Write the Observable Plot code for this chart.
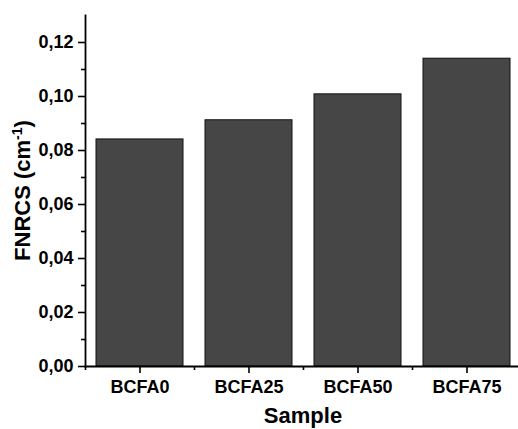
<!DOCTYPE html>
<html>
<head>
<meta charset="utf-8">
<script src="https://cdn.jsdelivr.net/npm/d3@7"></script>
<script src="https://cdn.jsdelivr.net/npm/@observablehq/plot@0.6"></script>
<style>
  html, body { margin: 0; padding: 0; background: #fff; }
  #chart { width: 518px; height: 429px; overflow: hidden; }
  svg { font-family: "Liberation Sans", Arial, sans-serif; font-weight: bold; }
</style>
</head>
<body>
<div id="chart"></div>
<script>
const samples = ["BCFA0", "BCFA25", "BCFA50", "BCFA75"];
const fnrcs = [0.0841, 0.0912, 0.1008, 0.1140];
const majorYTicks = [0, 0.02, 0.04, 0.06, 0.08, 0.10, 0.12];
const minorYTicks = [0.01, 0.03, 0.05, 0.07, 0.09, 0.11];
const xTitle = "Sample";
const yTitleMain = "FNRCS (cm";
const yTitleSup = "-1";
const yTitleEnd = ")";

const data = samples.map((s, i) => ({sample: s, value: fnrcs[i]}));
const fmt = d => d3.format(".2f")(d).replace(".", ",");

const W = 518, H = 429;
const mL = 85, mT = 15, mB = 63;
const xEnd = 521;

const plot = Plot.plot({
  width: W,
  height: H,
  marginLeft: mL,
  marginTop: mT,
  marginBottom: mB,
  marginRight: 0,
  style: {fontFamily: "'Liberation Sans', Arial, sans-serif", fontWeight: "bold", fontSize: "18px", color: "#000", background: "#fff", overflow: "hidden"},
  x: {domain: samples, range: [mL, xEnd], paddingInner: 0.2, paddingOuter: 0.1, label: null},
  y: {domain: [0, 0.13], label: null},
  marks: [
    Plot.barY(data, {x: "sample", y: "value", fill: "#464646", stroke: "#111", strokeWidth: 1}),
    Plot.axisY({ticks: majorYTicks, tickSize: 7, tickPadding: 5, tickFormat: fmt, strokeWidth: 1.6, fontSize: 18, fontWeight: "bold", label: null}),
    Plot.axisY({ticks: minorYTicks, tickSize: 4, tickFormat: () => "", strokeWidth: 1.6, label: null}),
    Plot.axisX({tickSize: 7, tickPadding: 7, strokeWidth: 1.6, fontSize: 18, fontWeight: "bold", label: null}),
    Plot.axisX({tickSize: 4, tickFormat: () => "", dx: -(xEnd - mL) / samples.length / 2, strokeWidth: 1.6, label: null}),
    Plot.frame({anchor: "left", strokeWidth: 1.8}),
    Plot.frame({anchor: "bottom", strokeWidth: 1.8})
  ]
});
document.getElementById("chart").appendChild(plot);

const svg = d3.select(plot);
// x title
svg.append("text")
  .attr("x", (mL + xEnd) / 2)
  .attr("y", 423)
  .attr("text-anchor", "middle")
  .attr("font-size", 22)
  .attr("font-weight", "bold")
  .attr("fill", "#000")
  .text(xTitle);
// y title with superscript
const yt = svg.append("text")
  .attr("transform", `translate(30, ${(mT + (H - mB)) / 2}) rotate(-90)`)
  .attr("text-anchor", "middle")
  .attr("font-size", 22)
  .attr("font-weight", "bold")
  .attr("fill", "#000");
yt.append("tspan").text(yTitleMain);
yt.append("tspan").attr("font-size", 14).attr("dy", "-0.6em").text(yTitleSup);
yt.append("tspan").attr("dy", "0.38em").text(yTitleEnd);
</script>
</body>
</html>
